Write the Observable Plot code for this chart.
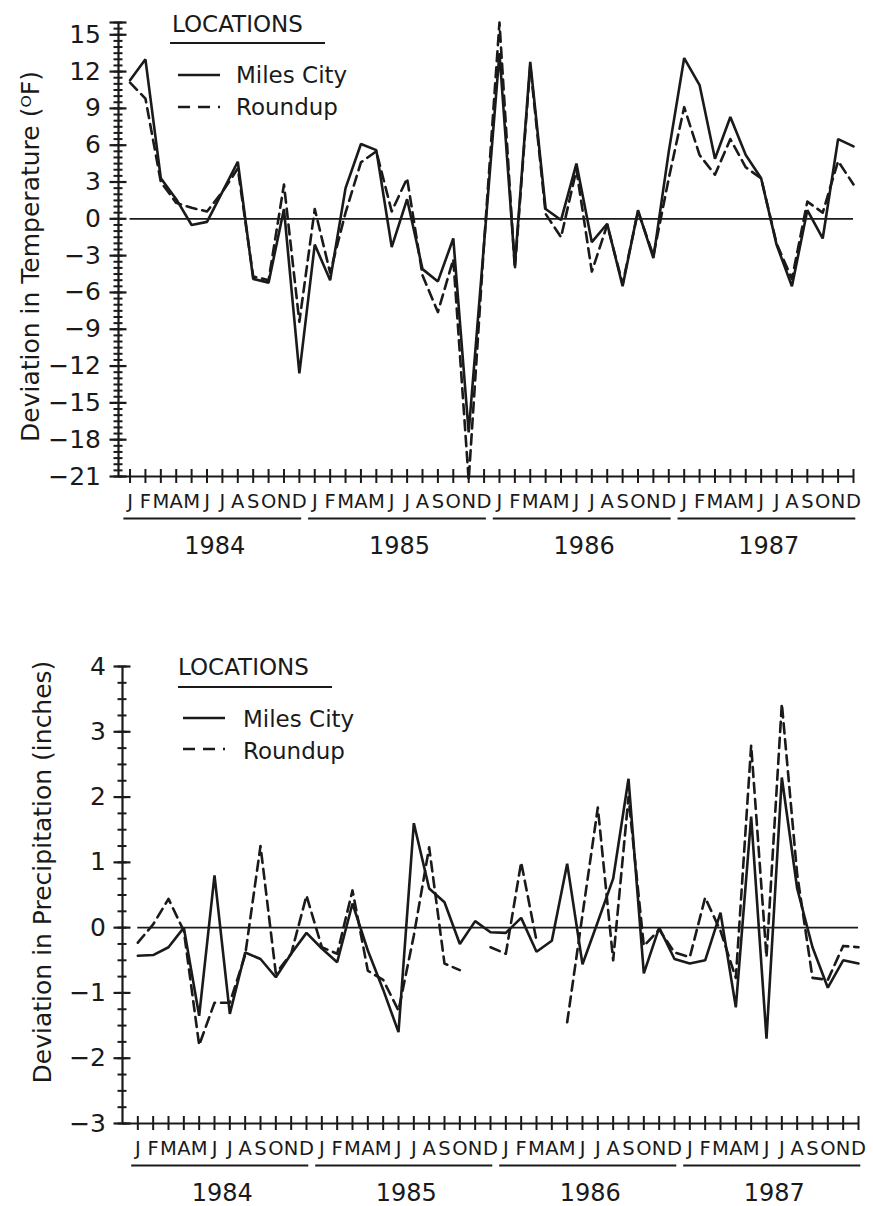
<!DOCTYPE html>
<html>
<head>
<meta charset="utf-8">
<script src="https://cdn.jsdelivr.net/npm/d3@7"></script>
<script src="https://cdn.jsdelivr.net/npm/@observablehq/plot@0.6"></script>
<style>
  html, body { margin: 0; padding: 0; background: #fff; }
  #wrap { position: relative; width: 873px; height: 1206px; overflow: hidden; font-family: "DejaVu Sans", sans-serif; }
  #wrap svg { display: block; }
  #overlay { position: absolute; left: 0; top: 0; pointer-events: none; }
</style>
</head>
<body>
<div id="wrap"></div>
<script>
// ---------------- data ----------------
const monthLetters = ["J","F","M","A","M","J","J","A","S","O","N","D"];
const years = [1984, 1985, 1986, 1987];
const locations = ["Miles City", "Roundup"];

// monthly temperature deviation (°F), Jan 1984 .. Dec 1987
const tempMilesCity = [
  11.3, 13.0, 3.3, 1.6, -0.5, -0.25, 2.2, 4.65, -4.9, -5.2, 0.8, -12.6,
  -2.1, -5.0, 2.5, 6.1, 5.6, -2.3, 1.6, -4.1, -5.1, -1.6, -17.4, -2.0,
  13.5, -3.8, 12.8, 0.8, -0.1, 4.5, -1.9, -0.4, -5.5, 0.7, -3.2, 5.5,
  13.1, 10.9, 4.9, 8.3, 5.2, 3.3, -2.1, -5.5, 0.7, -1.6, 6.5, 5.9
];
const tempRoundup = [
  11.1, 9.8, 3.0, 1.3, 0.9, 0.6, 2.2, 4.1, -4.7, -5.0, 2.8, -8.4,
  0.8, -4.4, 0.5, 4.6, 5.5, 0.6, 3.3, -4.6, -7.6, -3.3, -21.3, -2.0,
  16.0, -4.1, 12.5, 0.4, -1.5, 4.0, -4.3, -0.5, -5.3, 0.6, -3.0, 3.3,
  9.1, 5.2, 3.6, 6.5, 4.2, 3.3, -2.0, -4.9, 1.4, 0.5, 4.7, 2.8
];

// monthly precipitation deviation (inches), Jan 1984 .. Dec 1987
const precipMilesCity = [
  -0.43, -0.42, -0.3, 0.0, -1.35, 0.8, -1.32, -0.38, -0.48, -0.76, -0.4, -0.08,
  -0.32, -0.53, 0.37, -0.35, -0.95, -1.6, 1.6, 0.6, 0.39, -0.25, 0.1, -0.07,
  -0.08, 0.15, -0.37, -0.2, 0.98, -0.56, 0.09, 0.75, 2.28, -0.7, 0.0, -0.48,
  -0.55, -0.5, 0.23, -1.22, 1.7, -1.7, 2.3, 0.6, -0.3, -0.92, -0.5, -0.55
];
const precipRoundup = [
  -0.23, 0.05, 0.44, -0.05, -1.8, -1.15, -1.15, -0.42, 1.25, -0.7, -0.4, 0.49,
  -0.3, -0.4, 0.57, -0.66, -0.8, -1.27, -0.12, 1.23, -0.55, -0.65, null, -0.3,
  -0.4, 1.0, -0.2, null, -1.45, 0.2, 1.84, -0.5, 2.0, -0.28, -0.03, -0.38,
  -0.45, 0.46, -0.05, -0.77, 2.79, -0.45, 3.43, 0.82, -0.77, -0.8, -0.28, -0.3
];

// axis ticks
const tempMajorTicks = [15, 12, 9, 6, 3, 0, -3, -6, -9, -12, -15, -18, -21];
const tempMinorTicks = d3.range(-21, 16.01, 0.5);
const tempCapTick = [16];
const precipMajorTicks = [4, 3, 2, 1, 0, -1, -2, -3];
const precipMinorTicks = d3.range(-3, 4.01, 0.25);

const tempLabel = "Deviation in Temperature (\u1D3CF)";
const precipLabel = "Deviation in Precipitation (inches)";

// ---------------- derived tables ----------------
const monthIndex = d3.range(years.length * 12);
const monthRows = monthIndex.map(i => ({i, letter: monthLetters[i % 12]}));
const yearRows = years.map((year, k) => ({year, first: k * 12, last: k * 12 + 11}));
function seriesRows(values, loc) {
  return values.map((v, i) => ({i, loc, v}));
}

const ink = "#1a1a1a";
const font = "DejaVu Sans";

function chart({milesVals, roundupVals, yDomain, xDomain, major, minor, cap, label,
                width, height, marginLeft, marginRight, marginTop, marginBottom,
                labelDx, labelDy, tickPadding}) {
  const bottomVal = yDomain[0];
  const marks = [
    Plot.ruleX([xDomain[0]], {stroke: ink, strokeWidth: 2.2}),
    Plot.ruleY([bottomVal], {stroke: ink, strokeWidth: 2.2}),
    Plot.axisY({ticks: major, tickSize: 17, dx: 8.5, tickPadding, stroke: ink, strokeWidth: 2.2,
                fill: ink, fontSize: 25, label: null, tickFormat: d3.format("")}),
    Plot.axisY({ticks: minor, tickSize: 9, dx: 4.5, stroke: ink, strokeWidth: 2, fill: "none", label: null}),
    Plot.axisX({ticks: monthIndex, tickSize: 14, dy: -7, stroke: ink, strokeWidth: 2, fill: "none", label: null}),
    Plot.ruleY([0], {x1: monthIndex[0], x2: monthIndex[monthIndex.length - 1], stroke: ink, strokeWidth: 1.8}),
    Plot.line(seriesRows(milesVals, locations[0]), {x: "i", y: "v", stroke: ink, strokeWidth: 2.6, strokeLinejoin: "miter"}),
    Plot.line(seriesRows(roundupVals, locations[1]), {x: "i", y: "v", stroke: ink, strokeWidth: 2.6, strokeDasharray: "10,6"}),
    Plot.text(monthRows, {x: "i", text: "letter", frameAnchor: "bottom", dy: 31, fontSize: 19.5, fill: ink, fontFamily: font}),
    Plot.ruleY(yearRows, {x1: d => d.first - 0.4, x2: d => d.last + 0.15, y: () => bottomVal, dy: 42, stroke: ink, strokeWidth: 2}),
    Plot.text(yearRows, {x: d => (d.first + d.last) / 2, text: d => String(d.year), frameAnchor: "bottom", dy: 77, fontSize: 24, fill: ink, fontFamily: font}),
    Plot.text([label], {frameAnchor: "left", textAnchor: "middle", rotate: -90, dx: labelDx, dy: labelDy, fontSize: 25, fill: ink, fontFamily: font})
  ];
  if (cap) marks.splice(3, 0, Plot.axisY({ticks: cap, tickSize: 17, dx: 8.5, stroke: ink, strokeWidth: 2.2, fill: "none", label: null}));
  return Plot.plot({
    width, height, marginLeft, marginRight, marginTop, marginBottom,
    x: {domain: xDomain, axis: null},
    y: {domain: yDomain, axis: null},
    style: {fontFamily: font, fontSize: "23px", color: ink, background: "white", overflow: "visible"},
    marks
  });
}

const wrap = document.getElementById("wrap");

const topChart = chart({
  milesVals: tempMilesCity, roundupVals: tempRoundup,
  yDomain: [-21, 16], xDomain: [-0.75, 47],
  major: tempMajorTicks, minor: tempMinorTicks, cap: tempCapTick, label: tempLabel,
  width: 873, height: 566, marginLeft: 118, marginRight: 20, marginTop: 22, marginBottom: 90,
  labelDx: -88, labelDy: 7, tickPadding: 9
});
wrap.appendChild(topChart);

const bottomChart = chart({
  milesVals: precipMilesCity, roundupVals: precipRoundup,
  yDomain: [-3, 4], xDomain: [-1, 47],
  major: precipMajorTicks, minor: precipMinorTicks, cap: null, label: precipLabel,
  width: 873, height: 640, marginLeft: 122, marginRight: 15, marginTop: 100, marginBottom: 83,
  labelDx: -80, labelDy: -23, tickPadding: 8
});
wrap.appendChild(bottomChart);

// ---------------- legends (overlay) ----------------
const legendDash = [null, "12,8"];
const legends = [
  {titleX: 172, titleY: 32, ruleY: 43, ruleX1: 170, ruleX2: 325, sampleX1: 178, sampleX2: 220, textX: 236, rowY: [75, 107], textY: [83, 115]},
  {titleX: 178, titleY: 675, ruleY: 687, ruleX1: 178, ruleX2: 332, sampleX1: 183, sampleX2: 225, textX: 243, rowY: [718, 749], textY: [727, 759]}
];
const ov = d3.select(wrap).append("svg").attr("id", "overlay").attr("width", 873).attr("height", 1206);
for (const L of legends) {
  ov.append("text").attr("x", L.titleX).attr("y", L.titleY).attr("fill", ink)
    .attr("font-family", font).attr("font-size", 23).text("LOCATIONS");
  ov.append("line").attr("x1", L.ruleX1).attr("x2", L.ruleX2).attr("y1", L.ruleY).attr("y2", L.ruleY)
    .attr("stroke", ink).attr("stroke-width", 2.2);
  locations.forEach((loc, k) => {
    ov.append("line").attr("x1", L.sampleX1).attr("x2", L.sampleX2).attr("y1", L.rowY[k]).attr("y2", L.rowY[k])
      .attr("stroke", ink).attr("stroke-width", 2.4).attr("stroke-dasharray", legendDash[k]);
    ov.append("text").attr("x", L.textX).attr("y", L.textY[k]).attr("fill", ink)
      .attr("font-family", font).attr("font-size", 23).text(loc);
  });
}
</script>
</body>
</html>
